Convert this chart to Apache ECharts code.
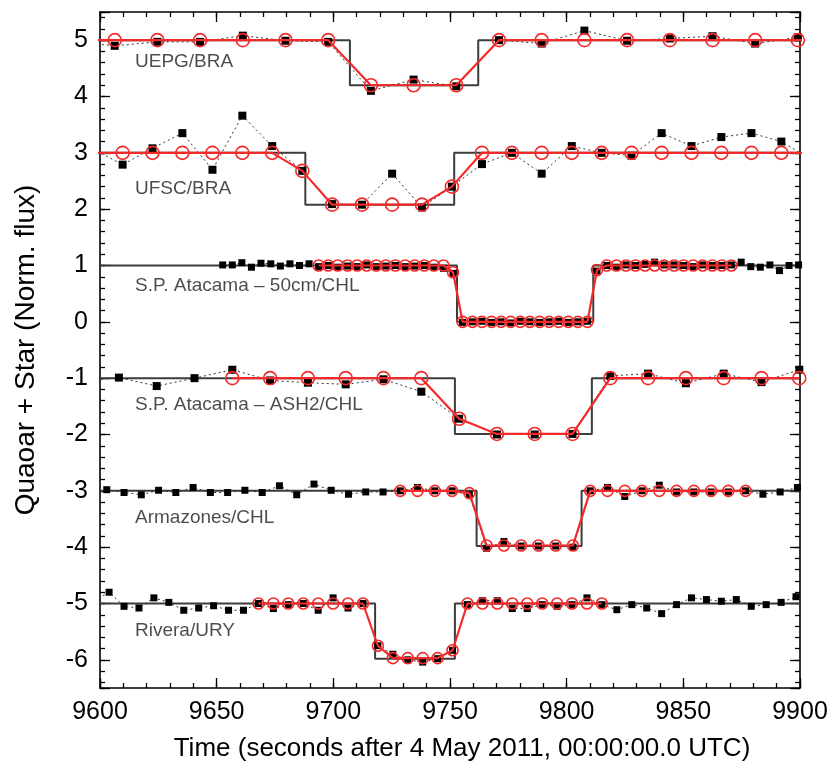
<!DOCTYPE html>
<html>
<head>
<meta charset="utf-8">
<script src="https://cdn.jsdelivr.net/npm/echarts@6/dist/echarts.min.js"></script>
<style>
html,body{margin:0;padding:0;background:#fff;}
#chart{width:839px;height:769px;}
</style>
</head>
<body>
<div id="chart"></div>
<script>
// ---------------- axis ranges / ticks ----------------
const xMin = 9600, xMax = 9900, xInterval = 50, xMinorInterval = 10;
const yMin = -6.5, yMax = 5.5;
const xTitle = 'Time (seconds after 4 May 2011, 00:00:00.0 UTC)';
const yTitle = 'Quaoar + Star (Norm. flux)';

// ---------------- station labels ----------------
const stationNames = ['UEPG/BRA', 'UFSC/BRA', 'S.P. Atacama \u2013 50cm/CHL', 'S.P. Atacama \u2013 ASH2/CHL', 'Armazones/CHL', 'Rivera/URY'];
const labelT = [9615, 9615, 9615, 9615, 9615, 9615];
const labelV = [4.61, 2.36, 0.64, -1.48, -3.48, -5.48];

// ---------------- UEPG/BRA ----------------
const uepgT     = [9588.0, 9606.3, 9624.6, 9642.9, 9661.2, 9679.5, 9697.8, 9716.1, 9734.4, 9752.7, 9771.0, 9789.3, 9807.6, 9825.9, 9844.2, 9862.5, 9880.8, 9899.1, 9917.4];
const uepgObs   = [4.97, 4.9, 4.97, 4.97, 5.08, 4.99, 4.97, 4.1, 4.3, 4.18, 5.0, 4.94, 5.17, 4.99, 5.03, 5.07, 4.94, 5.05, 5.0];
const uepgModel = [5, 5, 5, 5, 5, 5, 5, 4.2, 4.2, 4.2, 5, 5, 5, 5, 5, 5, 5, 5, 5];
const uepgStepT = [9600, 9707.1, 9762.1, 9900];
const uepgStepV = [5, 4.2, 5, 5];

// ---------------- UFSC/BRA ----------------
const ufscT     = [9596.9, 9609.7, 9622.5, 9635.3, 9648.2, 9661.0, 9673.8, 9686.7, 9699.5, 9712.3, 9725.2, 9738.0, 9750.8, 9763.7, 9776.5, 9789.3, 9802.2, 9815.0, 9827.8, 9840.7, 9853.5, 9866.3, 9879.2, 9892.0, 9904.8];
const ufscObs   = [3.07, 2.79, 3.08, 3.35, 2.70, 3.66, 3.12, 2.68, 2.09, 2.08, 2.63, 2.03, 2.4, 2.80, 3.0, 2.63, 3.12, 3.0, 2.95, 3.35, 3.12, 3.28, 3.35, 3.2, 2.88];
const ufscModel = [3, 3, 3, 3, 3, 3, 3, 2.68, 2.08, 2.08, 2.08, 2.08, 2.4, 3, 3, 3, 3, 3, 3, 3, 3, 3, 3, 3, 3];
const ufscStepT = [9600, 9688.0, 9751.8, 9900];
const ufscStepV = [3, 2.08, 3, 3];

// ---------------- S.P. Atacama 50cm/CHL ----------------
const sp50T = [9652.6, 9656.7, 9660.8, 9664.9, 9669.0, 9673.2, 9677.3, 9681.4, 9685.5, 9689.6,
  9693.7, 9697.8, 9701.9, 9706.1, 9710.2, 9714.3, 9718.4, 9722.5, 9726.6, 9730.8,
  9734.9, 9739.0, 9743.1, 9747.2, 9751.3, 9755.4, 9759.6, 9763.7, 9767.8, 9771.9,
  9776.0, 9780.1, 9784.2, 9788.4, 9792.5, 9796.6, 9800.7, 9804.8, 9808.9, 9813.0,
  9817.2, 9821.3, 9825.4, 9829.5, 9833.6, 9837.7, 9841.8, 9846.0, 9850.1, 9854.2,
  9858.3, 9862.4, 9866.5, 9870.6, 9874.8, 9878.9, 9883.0, 9887.1, 9891.2, 9895.3, 9899.4];
const sp50Obs = [1.01, 1.01, 1.05, 0.97, 1.04, 1.03, 0.99, 1.03, 1.0, 1.03,
  0.98, 1.0, 0.97, 0.99, 0.98, 1.01, 0.98, 0.99, 1.0, 0.98,
  0.99, 1.0, 0.97, 0.95, 0.86, -0.01, 0.0, 0.01, -0.01, 0.0,
  -0.02, 0.01, 0.0, -0.01, 0.0, 0.01, -0.01, 0.0, 0.01, 0.9,
  1.0, 0.97, 1.01, 1.0, 1.02, 1.06, 1.01, 1.01, 1.0, 0.98,
  1.01, 1.0, 1.0, 1.01, 1.06, 0.98, 0.97, 1.01, 0.91, 1.0, 1.01];
const sp50Model = [null, null, null, null, null, null, null, null, null, null,
  1, 1, 1, 1, 1, 1, 1, 1, 1, 1,
  1, 1, 1, 1, 0.88, 0, 0, 0, 0, 0,
  0, 0, 0, 0, 0, 0, 0, 0, 0, 0.92,
  1, 1, 1, 1, 1, 1, 1, 1, 1, 1,
  1, 1, 1, 1, null, null, null, null, null, null, null];
const sp50StepT = [9600, 9753.0, 9811.4, 9900];
const sp50StepV = [1, 0, 1, 1];

// ---------------- S.P. Atacama ASH2/CHL ----------------
const ashT     = [9591.9, 9608.1, 9624.3, 9640.5, 9656.7, 9672.9, 9689.1, 9705.3, 9721.5, 9737.7, 9753.9, 9770.1, 9786.3, 9802.5, 9818.7, 9834.9, 9851.1, 9867.3, 9883.5, 9899.7];
const ashObs   = [-1.05, -0.99, -1.14, -1.0, -0.85, -1.04, -1.08, -1.11, -1.02, -1.24, -1.72, -2.0, -2.0, -1.99, -0.96, -0.92, -1.09, -0.92, -1.07, -0.85];
const ashModel = [null, null, null, null, -1, -1, -1, -1, -1, -1, -1.72, -1.99, -1.99, -1.99, -1, -1, -1, -1, -1, -1];
const ashStepT = [9600, 9752.1, 9810.8, 9900];
const ashStepV = [-1, -1.99, -1, -1];

// ---------------- Armazones/CHL ----------------
const armT = [9602.9, 9610.3, 9617.7, 9625.1, 9632.5, 9639.9, 9647.3, 9654.7, 9662.1, 9669.5,
  9676.9, 9684.3, 9691.7, 9699.1, 9706.5, 9713.9, 9721.3, 9728.7, 9736.1, 9743.5,
  9750.9, 9758.3, 9765.7, 9773.1, 9780.5, 9787.9, 9795.3, 9802.7, 9810.1, 9817.5,
  9824.9, 9832.3, 9839.7, 9847.1, 9854.5, 9861.9, 9869.3, 9876.7, 9884.1, 9891.5, 9898.9];
const armObs = [-2.98, -3.03, -3.07, -2.99, -3.03, -2.94, -3.03, -3.03, -2.99, -3.03,
  -2.91, -3.07, -2.88, -2.99, -3.06, -3.02, -3.02, -3.0, -2.94, -3.0,
  -3.0, -3.07, -4.02, -3.9, -3.98, -3.98, -3.98, -4.0, -3.0, -2.94,
  -3.1, -3.0, -2.9, -3.02, -3.02, -3.02, -3.02, -3.0, -3.06, -3.02, -2.94];
const armModel = [null, null, null, null, null, null, null, null, null, null,
  null, null, null, null, null, null, null, -3, -3, -3,
  -3, -3.04, -3.97, -3.97, -3.97, -3.97, -3.97, -3.97, -3, -3,
  -3, -3, -3, -3, -3, -3, -3, -3, null, null, null];
const armStepT = [9600, 9761.4, 9806.4, 9900];
const armStepV = [-3, -3.98, -3, -3];

// ---------------- Rivera/URY ----------------
const rivT = [9597.5, 9603.9, 9610.3, 9616.7, 9623.1, 9629.5, 9635.9, 9642.3, 9648.7, 9655.1, 9661.5,
  9667.9, 9674.3, 9680.7, 9687.1, 9693.5, 9699.9, 9706.3, 9712.7, 9719.1, 9725.5,
  9731.9, 9738.3, 9744.7, 9751.1, 9757.5, 9763.9, 9770.3, 9776.7, 9783.1, 9789.5,
  9795.9, 9802.3, 9808.7, 9815.1, 9821.5, 9827.9, 9834.3, 9840.7, 9847.1, 9853.5,
  9859.9, 9866.3, 9872.7, 9879.1, 9885.5, 9891.9, 9898.3];
const rivObs = [-4.95, -4.8, -5.05, -5.08, -4.9, -4.98, -5.12, -5.08, -5.04, -5.12, -5.12,
  -5.0, -5.09, -5.02, -5.0, -5.12, -4.9, -5.08, -5.0, -5.75, -5.9,
  -6.0, -6.04, -5.98, -5.83, -5.02, -4.95, -4.95, -5.09, -5.09, -5.02,
  -5.05, -5.02, -4.9, -5.02, -5.11, -5.02, -5.08, -5.18, -5.02, -4.9,
  -4.93, -4.96, -4.93, -5.05, -5.02, -4.98, -4.88];
const rivModel = [null, null, null, null, null, null, null, null, null, null, null,
  -5, -5, -5, -5, -5, -5, -5, -5, -5.75, -5.97,
  -5.97, -5.97, -5.97, -5.83, -5, -5, -5, -5, -5, -5,
  -5, -5, -5, -5, null, null, null, null, null, null,
  null, null, null, null, null, null, null];
const rivStepT = [9600, 9717.9, 9752.1, 9900];
const rivStepV = [-5, -5.98, -5, -5];

// ---------------- build ----------------
const stations = [
  {t: uepgT, obs: uepgObs, model: uepgModel, st: uepgStepT, sv: uepgStepV, dense: false},
  {t: ufscT, obs: ufscObs, model: ufscModel, st: ufscStepT, sv: ufscStepV, dense: false},
  {t: sp50T, obs: sp50Obs, model: sp50Model, st: sp50StepT, sv: sp50StepV, dense: true},
  {t: ashT,  obs: ashObs,  model: ashModel,  st: ashStepT,  sv: ashStepV,  dense: false},
  {t: armT,  obs: armObs,  model: armModel,  st: armStepT,  sv: armStepV,  dense: true},
  {t: rivT,  obs: rivObs,  model: rivModel,  st: rivStepT,  sv: rivStepV,  dense: true}
];

const RED = '#f42a2a';
const FONT = 'Liberation Sans, Arial, sans-serif';
const series = [];
stations.forEach(function (s) {
  series.push({
    type: 'line', step: 'end', symbol: 'none', silent: true, z: 2,
    data: s.st.map(function (t, i) { return [t, s.sv[i]]; }),
    lineStyle: {color: '#3c3c3c', width: 2}
  });
});
stations.forEach(function (s) {
  series.push({
    type: 'line', symbol: 'rect', symbolSize: s.dense ? 7 : 8, silent: true, z: 3,
    data: s.t.map(function (t, i) { return [t, s.obs[i]]; }),
    itemStyle: {color: '#000'},
    lineStyle: {color: '#333', width: 1, type: [2, 3]}
  });
});
stations.forEach(function (s) {
  const d = [];
  s.t.forEach(function (t, i) { if (s.model[i] !== null) d.push([t, s.model[i]]); });
  series.push({
    type: 'line', symbol: 'circle', symbolSize: s.dense ? 11 : 13, silent: true, z: 4,
    data: d,
    itemStyle: {color: 'rgba(0,0,0,0)', borderColor: RED, borderWidth: 1.6},
    lineStyle: {color: RED, width: 2.2}
  });
});
series.push({
  type: 'scatter', symbolSize: 0, silent: true, z: 5,
  data: stationNames.map(function (n, i) { return {value: [labelT[i], labelV[i]], name: n}; }),
  label: {show: true, position: 'right', distance: 0, formatter: '{b}',
          color: '#1e1e1e', fontSize: 19, fontFamily: FONT}
});

const lineCol = '#000';
function xAx(pos, major, labels) {
  return {
    type: 'value', position: pos, min: xMin, max: xMax, interval: major ? xInterval : xMinorInterval,
    axisLine: {show: major, onZero: false, lineStyle: {color: lineCol, width: 1.6}},
    axisTick: {show: true, inside: true, length: major ? 10 : 5, lineStyle: {color: lineCol, width: 1.3}},
    axisLabel: {show: labels, fontSize: 25, color: '#000', margin: 12, fontFamily: FONT,
      formatter: function (v) { return String(Math.round(v)); }},
    splitLine: {show: false},
    name: labels ? xTitle : '', nameLocation: 'middle', nameGap: 48,
    nameTextStyle: {fontSize: 26, color: '#000', fontFamily: FONT, padding: [0, 0, 0, 24]}
  };
}
function yAx(pos, major, labels) {
  return {
    type: 'value', position: pos, min: yMin, max: yMax, splitNumber: major ? 12 : 60,
    axisLine: {show: major, onZero: false, lineStyle: {color: lineCol, width: 1.6}},
    axisTick: {show: true, inside: true, length: major ? 10 : 5, lineStyle: {color: lineCol, width: 1.3}},
    axisLabel: {show: labels, fontSize: 25, color: '#000', margin: 12, fontFamily: FONT,
      formatter: function (v) { return Math.abs(v - Math.round(v)) < 1e-6 ? String(Math.round(v)) : ''; }},
    splitLine: {show: false},
    name: labels ? yTitle : '', nameLocation: 'middle', nameGap: 60, nameRotate: 90,
    nameTextStyle: {fontSize: 28, color: '#000', fontFamily: FONT}
  };
}

const chart = echarts.init(document.getElementById('chart'), null, {renderer: 'canvas'});
chart.setOption({
  animation: false,
  backgroundColor: '#fff',
  grid: {left: 100, right: 39, top: 12, bottom: 81, containLabel: false},
  xAxis: [xAx('bottom', true, true), xAx('bottom', false, false), xAx('top', true, false), xAx('top', false, false)],
  yAxis: [yAx('left', true, true), yAx('left', false, false), yAx('right', true, false), yAx('right', false, false)],
  series: series.map(function (s) { s.xAxisIndex = 0; s.yAxisIndex = 0; s.clip = true; return s; })
});
</script>
</body>
</html>
